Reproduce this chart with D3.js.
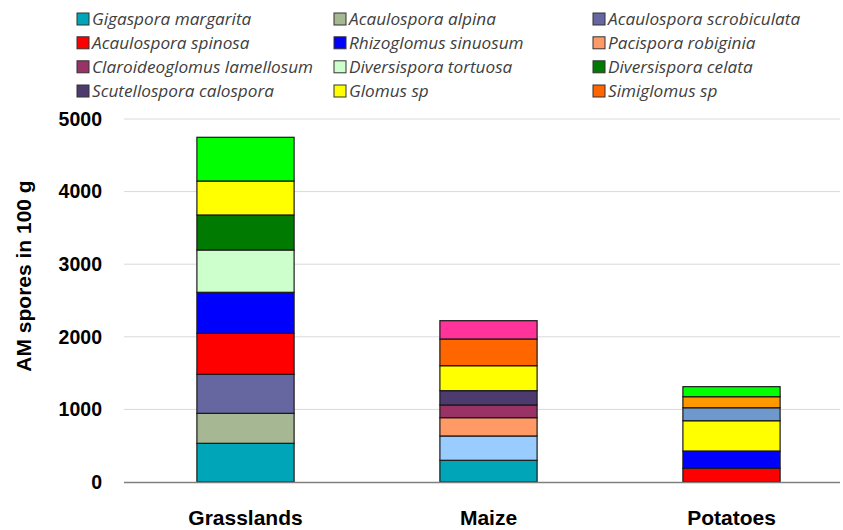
<!DOCTYPE html>
<html><head><meta charset="utf-8">
<script src="https://cdn.jsdelivr.net/npm/d3@7"></script>
<style>body{margin:0;background:#fff}svg{display:block}</style>
</head><body><svg id="c" width="843" height="530"></svg>
<script>
const categories = ["Grasslands", "Maize", "Potatoes"];
const seriesNames = ["Gigaspora margarita","Acaulospora alpina","Acaulospora scrobiculata","Acaulospora spinosa","Rhizoglomus sinuosum","Diversispora tortuosa","Diversispora celata","Other A","Pacispora robiginia","Claroideoglomus lamellosum","Scutellospora calospora","Glomus sp","Simiglomus sp","Other B","Other C","Other D","Other E"];
const seriesColors = ["#00a6b8","#a6b893","#6666a0","#ff0000","#0000ff","#ccffcc","#007a00","#99ccff","#ff9966","#993366","#4d3a6e","#ffff00","#ff6600","#ff3399","#6e99cc","#ff9900","#00ff00"];
const grasslands = [533,413,537,565,565,583,482,0,0,0,0,468,0,0,0,0,602];
const maize      = [299,0,0,0,0,0,0,335,252,175,197,344,368,252,0,0,0];
const potatoes   = [0,0,0,189,238,0,0,0,0,0,0,417,0,0,179,152,138];
const yTicks = [0,1000,2000,3000,4000,5000];
const legendNames = ["Gigaspora margarita","Acaulospora alpina","Acaulospora scrobiculata","Acaulospora spinosa","Rhizoglomus sinuosum","Pacispora robiginia","Claroideoglomus lamellosum","Diversispora tortuosa","Diversispora celata","Scutellospora calospora","Glomus sp","Simiglomus sp"];

const svg = d3.select("#c");
const values = [grasslands, maize, potatoes];
const rows = categories.map((c,i)=>{const o={cat:c}; seriesNames.forEach((s,j)=>o[s]=values[i][j]); return o;});
const stack = d3.stack().keys(seriesNames)(rows);

const x = d3.scaleBand().domain(categories).range([124,853]).paddingInner(0.6).paddingOuter(0.3);
const y = d3.scaleLinear().domain([0,5000]).range([482,119]);

// gridlines
svg.append("g").selectAll("line").data(yTicks.slice(1)).join("line")
  .attr("x1",124).attr("x2",840).attr("y1",d=>y(d)).attr("y2",d=>y(d))
  .attr("stroke","#d9d9d9").attr("stroke-width",1);

// y axis labels
const yAxis = d3.axisLeft(y).tickValues(yTicks).tickSize(0).tickPadding(0).tickFormat(d3.format("d"));
const ya = svg.append("g").attr("transform","translate(102,0)").call(yAxis);
ya.select(".domain").remove();
ya.selectAll("text").attr("font-family","Arial, 'Liberation Sans', sans-serif").attr("font-weight","bold").attr("font-size","19.5px").attr("fill","#000");

// bars
const colorOf = d3.scaleOrdinal().domain(seriesNames).range(seriesColors);
svg.append("g").selectAll("g").data(stack).join("g")
  .attr("fill",d=>colorOf(d.key))
  .selectAll("rect").data(d=>d.filter(p=>p[1]-p[0]>0)).join("rect")
  .attr("x",d=>x(d.data.cat)).attr("width",x.bandwidth())
  .attr("y",d=>y(d[1])).attr("height",d=>y(d[0])-y(d[1]))
  .attr("stroke","#1a1a1a").attr("stroke-width",1.2);

// x axis
const xa = svg.append("g").attr("transform","translate(0,482)").call(d3.axisBottom(x).tickSize(0).tickPadding(0));
xa.select(".domain").attr("stroke","#7f7f7f").attr("stroke-width",1.5).attr("d","M124,0.5H840");
xa.selectAll("text").attr("dy",null).attr("y",43).attr("font-family","Arial, 'Liberation Sans', sans-serif").attr("font-weight","bold").attr("font-size","21px").attr("fill","#000");

// y title
svg.append("text").attr("transform","translate(31,276) rotate(-90)").attr("text-anchor","middle")
  .attr("font-family","Arial, 'Liberation Sans', sans-serif").attr("font-weight","bold").attr("font-size","21px").text("AM spores in 100 g");

// legend
const legCols = [77,334,593], legRows = [19,42.8,66.8,91];
const lg = svg.append("g").selectAll("g").data(legendNames).join("g")
  .attr("transform",(d,i)=>`translate(${legCols[i%3]},${legRows[Math.floor(i/3)]})`);
lg.append("rect").attr("x",0).attr("y",-6).attr("width",12).attr("height",12)
  .attr("fill",d=>colorOf(d)).attr("stroke","#333").attr("stroke-width",1);
lg.append("text").attr("x",15).attr("y",6).attr("font-family","'Open Sans', sans-serif").attr("font-style","italic")
  .attr("font-size","17.2px").attr("fill","#404040").text(d=>d);
</script></body></html>
